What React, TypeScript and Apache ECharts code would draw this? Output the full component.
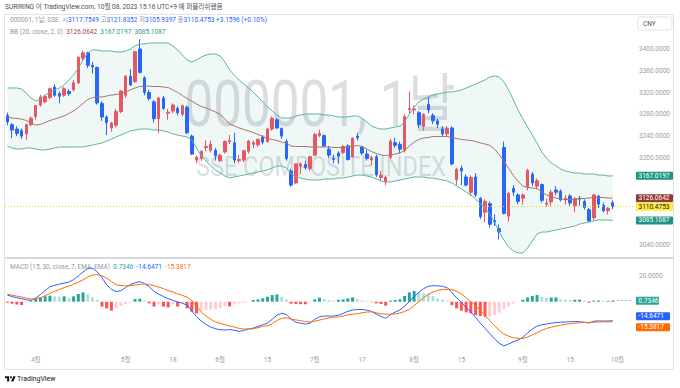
import React, { useEffect, useRef } from "react";
import * as echarts from "echarts";

const FONT = 'Roboto, "Noto Sans CJK KR", sans-serif';

// ---------- DATA ----------
const dates = [
  "2023-03-24","2023-03-27","2023-03-28","2023-03-29","2023-03-30","2023-03-31",
  "2023-04-03","2023-04-04","2023-04-06","2023-04-07","2023-04-10","2023-04-11","2023-04-12","2023-04-13","2023-04-14",
  "2023-04-17","2023-04-18","2023-04-19","2023-04-20","2023-04-21","2023-04-24","2023-04-25","2023-04-26","2023-04-27","2023-04-28",
  "2023-05-04","2023-05-05","2023-05-08","2023-05-09","2023-05-10","2023-05-11","2023-05-12","2023-05-15","2023-05-16","2023-05-17",
  "2023-05-18","2023-05-19","2023-05-22","2023-05-23","2023-05-24","2023-05-25","2023-05-26","2023-05-29","2023-05-30","2023-05-31",
  "2023-06-01","2023-06-02","2023-06-05","2023-06-06","2023-06-07","2023-06-08","2023-06-09","2023-06-12","2023-06-13","2023-06-14",
  "2023-06-15","2023-06-16","2023-06-19","2023-06-20","2023-06-21","2023-06-26","2023-06-27","2023-06-28","2023-06-29","2023-06-30",
  "2023-07-03","2023-07-04","2023-07-05","2023-07-06","2023-07-07","2023-07-10","2023-07-11","2023-07-12","2023-07-13","2023-07-14",
  "2023-07-17","2023-07-18","2023-07-19","2023-07-20","2023-07-21","2023-07-24","2023-07-25","2023-07-26","2023-07-27","2023-07-28","2023-07-31",
  "2023-08-01","2023-08-02","2023-08-03","2023-08-04","2023-08-07","2023-08-08","2023-08-09","2023-08-10","2023-08-11",
  "2023-08-14","2023-08-15","2023-08-16","2023-08-17","2023-08-18","2023-08-21","2023-08-22","2023-08-23","2023-08-24","2023-08-25",
  "2023-08-28","2023-08-29","2023-08-30","2023-08-31",
  "2023-09-01","2023-09-04","2023-09-05","2023-09-06","2023-09-07","2023-09-08","2023-09-11","2023-09-12","2023-09-13","2023-09-14",
  "2023-09-15","2023-09-18","2023-09-19","2023-09-20","2023-09-21","2023-09-22","2023-09-25","2023-09-26","2023-09-27","2023-09-28",
];
const futureDates = ["2023-10-09", "2023-10-10", "2023-10-11", "2023-10-12"];

const open = [
  3278, 3261, 3253, 3250, 3244, 3261, 3276, 3297, 3303, 3311,
  3330, 3318, 3315, 3322, 3325, 3338, 3383, 3393, 3370, 3366,
  3300, 3275, 3255, 3260, 3285, 3315, 3350, 3340, 3400, 3347,
  3320, 3303, 3272, 3310, 3282, 3286, 3291, 3280, 3293, 3240,
  3196, 3199, 3219, 3214, 3214, 3195, 3211, 3230, 3228, 3195,
  3196, 3212, 3225, 3224, 3238, 3230, 3253, 3270, 3254, 3230,
  3176, 3154, 3185, 3188, 3180, 3205, 3241, 3241, 3216, 3199,
  3209, 3210, 3222, 3202, 3240, 3220, 3207, 3196, 3202, 3164,
  3156, 3201, 3228, 3225, 3214, 3289, 3288, 3283, 3258, 3298,
  3278, 3268, 3253, 3244, 3255, 3160, 3181, 3165, 3137, 3165,
  3126, 3100, 3116, 3085, 3070, 3219, 3093, 3144, 3132, 3126,
  3147, 3170, 3148, 3151, 3115, 3119, 3141, 3139, 3123, 3130,
  3112, 3126, 3120, 3105, 3090, 3130, 3113, 3103, 3117.7549,
];
const high = [
  3283, 3264, 3258, 3254, 3263, 3276, 3297, 3316, 3316, 3329,
  3335, 3322, 3330, 3326, 3343, 3386, 3397, 3395, 3376, 3368,
  3304, 3278, 3266, 3290, 3324, 3352, 3363, 3396, 3418, 3350,
  3325, 3306, 3312, 3314, 3290, 3300, 3295, 3298, 3296, 3243,
  3204, 3214, 3232, 3232, 3218, 3208, 3232, 3242, 3246, 3205,
  3215, 3233, 3232, 3236, 3242, 3255, 3276, 3273, 3256, 3234,
  3180, 3190, 3192, 3195, 3204, 3246, 3252, 3243, 3222, 3206,
  3212, 3224, 3225, 3238, 3246, 3222, 3215, 3204, 3206, 3176,
  3168, 3235, 3237, 3230, 3280, 3322, 3296, 3286, 3282, 3312,
  3282, 3272, 3258, 3258, 3258, 3182, 3186, 3170, 3168, 3172,
  3128, 3124, 3120, 3096, 3078, 3230, 3138, 3150, 3135, 3135,
  3180, 3174, 3162, 3153, 3125, 3142, 3148, 3142, 3132, 3134,
  3128, 3130, 3124, 3108, 3133, 3132, 3118, 3110, 3121.8352,
];
const low = [
  3260, 3236, 3240, 3235, 3233, 3258, 3270, 3294, 3300, 3308,
  3312, 3300, 3312, 3314, 3322, 3336, 3378, 3365, 3355, 3298,
  3268, 3242, 3248, 3256, 3282, 3310, 3332, 3338, 3355, 3315,
  3305, 3265, 3245, 3288, 3270, 3282, 3278, 3276, 3244, 3205,
  3190, 3194, 3212, 3210, 3195, 3192, 3208, 3225, 3190, 3190,
  3192, 3208, 3218, 3220, 3225, 3228, 3250, 3253, 3235, 3195,
  3147, 3152, 3170, 3178, 3176, 3203, 3238, 3220, 3200, 3190,
  3189, 3206, 3195, 3200, 3232, 3205, 3195, 3186, 3165, 3158,
  3150, 3198, 3218, 3208, 3210, 3282, 3280, 3255, 3250, 3282,
  3262, 3255, 3240, 3240, 3186, 3150, 3150, 3148, 3130, 3128,
  3088, 3082, 3072, 3075, 3050, 3096, 3083, 3130, 3115, 3114,
  3140, 3148, 3142, 3118, 3110, 3112, 3132, 3120, 3114, 3112,
  3100, 3112, 3105, 3082, 3085, 3108, 3100, 3096, 3105.9397,
];
const close = [
  3266, 3251, 3245, 3240, 3261, 3273, 3296, 3312, 3313, 3327,
  3315, 3313, 3327, 3318, 3338, 3385, 3393, 3370, 3367, 3301,
  3275, 3265, 3264, 3285, 3323, 3350, 3334, 3395, 3357, 3320,
  3309, 3272, 3310, 3291, 3284, 3297, 3283, 3296, 3246, 3207,
  3201, 3212, 3221, 3225, 3204, 3205, 3230, 3232, 3196, 3197,
  3213, 3231, 3228, 3234, 3229, 3253, 3273, 3255, 3240, 3199,
  3150, 3189, 3189, 3182, 3202, 3243, 3245, 3222, 3205, 3197,
  3203, 3221, 3197, 3236, 3237, 3209, 3199, 3200, 3169, 3168,
  3164, 3231, 3223, 3216, 3276, 3291, 3290, 3261, 3280, 3288,
  3268, 3262, 3244, 3254, 3189, 3179, 3176, 3150, 3164, 3132,
  3092, 3120, 3078, 3082, 3064, 3098, 3135, 3137, 3120, 3132,
  3177, 3154, 3158, 3122, 3117, 3137, 3137, 3123, 3126, 3117,
  3125, 3124, 3109, 3084, 3132, 3115, 3103, 3107.3157, 3110.4753,
];

const bbUpper = [
  3328.4, 3328.4, 3328.4, 3326.5, 3319.2, 3310.0, 3304.5, 3308.2, 3315.5, 3321.0,
  3324.7, 3328.4, 3333.9, 3343.1, 3352.2, 3365.1, 3379.8, 3392.7, 3398.2, 3398.2,
  3396.3, 3396.3, 3396.3, 3394.5, 3394.5, 3396.3, 3400.0, 3405.5, 3409.2, 3409.2,
  3411.0, 3411.0, 3411.0, 3411.0, 3411.0, 3405.5, 3398.2, 3389.0, 3379.8, 3376.1,
  3379.8, 3385.3, 3389.0, 3390.8, 3390.8, 3387.1, 3376.1, 3361.4, 3352.2, 3343.1,
  3335.7, 3328.4, 3321.0, 3311.8, 3302.6, 3293.5, 3286.1, 3278.8, 3273.2, 3273.2,
  3273.2, 3276.9, 3278.8, 3280.6, 3280.6, 3280.6, 3280.6, 3278.8, 3278.8, 3276.9,
  3275.1, 3275.1, 3275.1, 3276.9, 3276.9, 3273.2, 3265.9, 3258.5, 3254.9, 3253.0,
  3253.0, 3254.9, 3256.7, 3258.5, 3265.9, 3280.6, 3293.5, 3302.6, 3308.2, 3311.8,
  3315.5, 3317.3, 3319.2, 3321.0, 3321.0, 3322.8, 3324.7, 3328.4, 3332.0, 3335.7,
  3339.4, 3343.1, 3348.6, 3350.4, 3348.6, 3339.4, 3324.7, 3306.3, 3287.9, 3271.4,
  3256.7, 3242.0, 3227.3, 3210.8, 3199.8, 3190.6, 3185.1, 3179.6, 3175.9, 3174.0,
  3172.2, 3172.2, 3170.4, 3170.4, 3170.4, 3168.5, 3168.5, 3166.7, 3167.0197,
];
const bbBasis = [
  3275.1, 3273.3, 3272.4, 3271.4, 3268.7, 3264.1, 3260.4, 3261.4, 3265.0, 3268.7,
  3271.4, 3274.2, 3277.0, 3281.6, 3286.1, 3292.6, 3299.9, 3307.3, 3310.9, 3311.9,
  3311.8, 3313.7, 3315.5, 3316.4, 3318.3, 3321.0, 3324.7, 3328.4, 3331.1, 3331.1,
  3332.0, 3331.1, 3331.1, 3330.2, 3329.3, 3324.7, 3320.1, 3314.6, 3309.1, 3304.5,
  3299.0, 3294.4, 3291.7, 3288.0, 3284.3, 3279.7, 3271.4, 3262.2, 3258.6, 3254.9,
  3252.1, 3249.4, 3246.6, 3242.9, 3239.3, 3235.6, 3233.8, 3232.0, 3229.2, 3227.3,
  3221.8, 3220.9, 3220.9, 3220.9, 3220.0, 3220.0, 3220.0, 3220.0, 3220.0, 3219.1,
  3219.1, 3219.1, 3220.0, 3221.8, 3222.7, 3220.9, 3216.3, 3211.7, 3208.1, 3205.3,
  3204.4, 3205.3, 3207.1, 3209.0, 3213.6, 3221.8, 3229.2, 3233.8, 3236.6, 3237.4,
  3239.3, 3239.3, 3239.3, 3239.3, 3237.4, 3235.6, 3233.8, 3232.9, 3231.9, 3230.1,
  3227.4, 3225.6, 3222.8, 3216.3, 3206.2, 3194.3, 3180.5, 3167.6, 3156.6, 3148.4,
  3145.6, 3144.7, 3143.8, 3137.3, 3131.8, 3128.2, 3126.3, 3124.5, 3123.6, 3123.5,
  3123.6, 3125.4, 3125.4, 3126.3, 3127.2, 3127.2, 3127.2, 3126.3, 3126.0642,
];
const bbLower = [
  3221.8, 3218.1, 3216.3, 3216.3, 3218.1, 3218.1, 3216.3, 3214.5, 3214.5, 3216.3,
  3218.1, 3220.0, 3220.0, 3220.0, 3220.0, 3220.0, 3220.0, 3221.8, 3223.6, 3225.5,
  3227.3, 3231.0, 3234.7, 3238.3, 3242.0, 3245.7, 3249.4, 3251.2, 3253.0, 3253.0,
  3253.0, 3251.2, 3251.2, 3249.4, 3247.5, 3243.9, 3242.0, 3240.2, 3238.3, 3232.8,
  3218.1, 3203.4, 3194.3, 3185.1, 3177.7, 3172.2, 3166.7, 3163.0, 3164.9, 3166.7,
  3168.5, 3170.4, 3172.2, 3174.0, 3175.9, 3177.7, 3181.4, 3185.1, 3185.1, 3181.4,
  3170.4, 3164.9, 3163.0, 3161.2, 3159.4, 3159.4, 3159.4, 3161.2, 3161.2, 3161.2,
  3163.0, 3163.0, 3164.9, 3166.7, 3168.5, 3168.5, 3166.7, 3164.9, 3161.2, 3157.5,
  3155.7, 3155.7, 3157.5, 3159.4, 3161.2, 3163.0, 3164.9, 3164.9, 3164.9, 3163.0,
  3163.0, 3161.2, 3159.4, 3157.5, 3153.8, 3148.3, 3142.8, 3137.3, 3131.8, 3124.5,
  3115.3, 3108.0, 3097.0, 3082.2, 3063.8, 3049.1, 3036.3, 3028.9, 3025.3, 3025.3,
  3034.5, 3047.3, 3060.2, 3063.8, 3063.8, 3065.7, 3067.5, 3069.3, 3071.2, 3073.0,
  3074.9, 3078.5, 3080.4, 3082.2, 3084.0, 3085.9, 3085.9, 3085.9, 3085.1087,
];

const macdLine = [
  5.0, 4.0, 3.0, 2.3, 1.4, 1.0, 2.8, 5.5, 8.5, 11.5,
  12.6, 13.5, 14.3, 15.0, 17.0, 19.8, 22.8, 25.6, 25.8, 23.0,
  18.5, 13.0, 9.5, 7.8, 8.5, 10.8, 13.2, 14.5, 15.4, 14.0,
  11.5, 8.0, 5.8, 4.0, 2.3, 1.0, -0.2, -1.2, -2.5, -7.0,
  -11.5, -15.0, -17.5, -19.5, -20.8, -21.6, -21.8, -21.4, -22.0, -22.8,
  -22.0, -21.0, -20.3, -19.0, -17.8, -16.4, -13.5, -10.5, -8.9, -9.8,
  -13.5, -15.8, -16.5, -17.2, -16.5, -13.5, -11.6, -11.0, -11.0, -11.0,
  -10.4, -9.0, -7.4, -6.4, -6.0, -6.0, -6.5, -7.5, -9.5, -11.3,
  -12.8, -10.0, -8.0, -6.4, -3.5, 0.0, 4.0, 7.2, 10.0, 11.8,
  12.3, 12.2, 11.8, 10.8, 7.0, 3.0, -0.5, -4.5, -8.0, -12.0,
  -16.5, -20.5, -24.5, -28.5, -32.0, -34.0, -32.5, -30.8, -29.5, -27.4,
  -24.0, -21.0, -18.8, -17.8, -17.2, -16.5, -16.0, -15.8, -15.6, -15.4,
  -15.3, -15.4, -15.8, -16.4, -15.0, -14.8, -14.9, -14.8, -14.6471,
];
const signalLine = [
  5.9, 5.0, 4.3, 3.6, 2.8, 2.0, 2.2, 3.0, 4.6, 6.4,
  8.0, 9.5, 10.8, 12.0, 13.5, 15.0, 16.8, 19.0, 20.5, 20.8,
  20.0, 18.0, 15.5, 13.0, 12.5, 12.2, 12.3, 12.8, 13.3, 13.6,
  13.2, 12.3, 11.3, 10.0, 8.5, 7.5, 6.0, 4.8, 3.5, 1.0,
  -3.5, -8.0, -11.0, -13.5, -15.5, -16.6, -17.7, -18.6, -19.5, -20.5,
  -21.0, -21.0, -20.8, -20.0, -19.0, -18.5, -17.0, -14.5, -12.8, -12.3,
  -13.5, -14.0, -14.6, -15.2, -15.6, -15.0, -14.1, -13.3, -12.5, -12.0,
  -11.7, -11.0, -10.0, -9.6, -9.3, -8.5, -8.0, -7.8, -8.5, -9.3,
  -9.5, -9.6, -9.4, -8.8, -7.5, -6.0, -3.0, 0.0, 3.0, 5.8,
  7.5, 8.7, 9.3, 9.5, 9.3, 8.0, 6.0, 3.0, 0.0, -3.0,
  -6.5, -10.5, -14.5, -18.5, -22.0, -25.0, -26.5, -27.8, -28.2, -28.2,
  -27.2, -25.5, -23.8, -22.0, -20.6, -19.6, -18.8, -18.0, -17.4, -16.9,
  -16.5, -16.2, -16.0, -15.9, -15.8, -15.6, -15.5, -15.45, -15.3817,
];
const histogram = [
  -0.8, -1.5, -2.1, -2.6, -0.8, 0.6, 2.1, 3.4, 4.1, 4.6,
  4.1, 3.9, 4.1, 2.8, 4.1, 5.9, 7.2, 5.9, 3.4, 1.3,
  -3.8, -5.1, -6.9, -5.1, -3.3, -1.8, -0.8, 2.1, 2.3, 0.8,
  -1.3, -3.8, -2.1, -3.8, -4.4, -1.8, -3.8, -1.3, -5.1, -7.7,
  -9.0, -6.9, -6.4, -6.2, -5.9, -5.1, -3.3, -3.6, -2.1, -1.3,
  -0.8, -0.3, 1.3, 1.8, 2.6, 3.8, 5.1, 5.6, 3.8, 1.8,
  -1.5, -1.8, -1.9, -2.0, -0.5, 1.8, 3.1, 2.1, 1.3, 0.8,
  1.5, 1.8, 2.6, 3.3, 1.8, 1.0, 0.5, -0.3, -1.3, -1.8,
  -3.1, 0.8, 1.3, 1.8, 4.4, 7.2, 8.2, 7.2, 6.4, 5.9,
  4.4, 2.6, 1.8, 0.8, -2.6, -5.1, -6.9, -8.2, -9.0, -10.3,
  -11.0, -11.6, -11.4, -10.3, -8.5, -5.9, -3.8, -1.3, -0.3, 1.5,
  3.3, 4.4, 5.1, 3.8, 3.1, 3.2, 3.3, 1.8, 1.7, 1.3,
  1.5, 1.6, 0.8, -0.8, 0.8, 0.9, 0.6, 0.65, 0.7346,
];

const tickDates = [
  "2023-04-03", "2023-05-04", "2023-05-18", "2023-06-01", "2023-06-15", "2023-07-03",
  "2023-07-17", "2023-08-01", "2023-08-15", "2023-09-01", "2023-09-15", "2023-10-09",
];
const tickLabels = ["4월", "5월", "18", "6월", "15", "7월", "17", "8월", "15", "9월", "15", "10월"];
// price-axis labels left visible (the others sit under the value tags)
const priceLabels = [3040, 3200, 3240, 3280, 3320, 3360, 3400];
const macdLabels = [20];

// ---------- STYLE ----------
const UP = "#f7525f";
const DOWN = "#2962ff";
const BAND = "#5fb3a3";
const BASIS = "#ad7068";
const AXIS_TEXT = "#9a9da6";

echarts.graphic.registerShape(
  "tvlogo",
  echarts.graphic.extendPath(
    "M14 22H7V11H0V4h14v18zM28 22h-8l7.5-18h8zM16.5 7.5a3.5 3.5 0 1 0 7 0a3.5 3.5 0 1 0 -7 0z",
    {}
  )
);

function histColor(v: number, i: number) {
  const prev = i > 0 ? histogram[i - 1] : 0;
  if (v >= 0) return v >= prev ? "#26a69a" : "#b2dfdb";
  return v < prev ? "#ff5252" : "#ffcdd2";
}

export default function App() {
  const ref = useRef<HTMLDivElement>(null);

  useEffect(() => {
    const el = ref.current;
    if (!el) return;
    const chart = echarts.init(el, null, { renderer: "svg" });
    const last = dates.length - 1;
    const categories = [...dates, ...futureDates];
    const candleData = dates.map((_, i) => [open[i], close[i], low[i], high[i]]);
    const bbFill = bbUpper.map((u, i) => +(u - bbLower[i]).toFixed(4));
    const histData = histogram.map((v, i) => ({ value: v, itemStyle: { color: histColor(v, i) } }));
    const chg = close[last] - close[last - 1];
    const chgPct = (chg / close[last - 1]) * 100;
    const f4 = (v: number) => v.toFixed(4);

    const staticGraphics: any[] = [
      {
        id: "frame", type: "rect", z: 0, silent: true,
        shape: { x: 4.5, y: 14.5, width: 669, height: 355 },
        style: { fill: "none", stroke: "#e0e3eb", lineWidth: 1 },
      },
      {
        id: "sep", type: "line", z: 50, silent: true,
        shape: { x1: 5, y1: 258, x2: 673, y2: 258 },
        style: { stroke: "#c9ccd3", lineWidth: 1.5 },
      },
      {
        id: "wm1", type: "text", z: 0, silent: true, x: 320, y: 104, scaleX: 0.8,
        style: {
          text: "000001, 1날", fontSize: 64, fontFamily: FONT,
          fill: "rgba(120,123,134,0.26)", align: "center", verticalAlign: "middle",
        },
      },
      {
        id: "wm2", type: "text", z: 0, silent: true, x: 321, y: 166, scaleX: 0.84,
        style: {
          text: "SSE COMPOSITE INDEX", fontSize: 28, fontFamily: FONT,
          fill: "rgba(120,123,134,0.26)", align: "center", verticalAlign: "middle",
        },
      },
      {
        id: "h1", type: "text", x: 5, y: 7,
        style: {
          text: "SURIRING 이 TradingView.com, 10월 08, 2023 15:16 UTC+9 에 퍼블리쉬됐음",
          fontSize: 6.6, fontFamily: FONT, fill: "#4a4d57", verticalAlign: "middle",
        },
      },
      {
        id: "h2", type: "text", x: 10, y: 20,
        style: {
          text:
            "{g|000001, 1날, SSE  시}{b|" + f4(open[last]) + "} {g|고}{b|" + f4(high[last]) +
            "} {g|저}{b|" + f4(low[last]) + "} {g|종}{b|" + f4(close[last]) + "} {b|" +
            (chg >= 0 ? "+" : "") + f4(chg) + " (" + (chgPct >= 0 ? "+" : "") + chgPct.toFixed(2) + "%)}",
          fontSize: 6.5, fontFamily: FONT, verticalAlign: "middle",
          rich: {
            g: { fill: "#9598a1", fontSize: 6.5, fontFamily: FONT },
            b: { fill: "#2962ff", fontSize: 6.5, fontFamily: FONT },
          },
        },
      },
      {
        id: "h3", type: "text", x: 10, y: 32,
        style: {
          text:
            "{g|BB (20, close, 2, 0)}  {r|" + f4(bbBasis[last]) + "}  {t|" + f4(bbUpper[last]) +
            "}  {t|" + f4(bbLower[last]) + "}",
          fontSize: 6.5, fontFamily: FONT, verticalAlign: "middle",
          rich: {
            g: { fill: "#9598a1", fontSize: 6.5, fontFamily: FONT },
            r: { fill: "#a1463e", fontSize: 6.5, fontFamily: FONT },
            t: { fill: "#1e9c86", fontSize: 6.5, fontFamily: FONT },
          },
        },
      },
      {
        id: "h4", type: "text", x: 10, y: 267,
        style: {
          text:
            "{g|MACD (15, 30, close, 7, EMA, EMA)}  {t|" + f4(histogram[last]) + "}  {b|" +
            f4(macdLine[last]) + "}  {o|" + f4(signalLine[last]) + "}",
          fontSize: 6.5, fontFamily: FONT, verticalAlign: "middle",
          rich: {
            g: { fill: "#9598a1", fontSize: 6.5, fontFamily: FONT },
            t: { fill: "#26a69a", fontSize: 6.5, fontFamily: FONT },
            b: { fill: "#2962ff", fontSize: 6.5, fontFamily: FONT },
            o: { fill: "#ff6d00", fontSize: 6.5, fontFamily: FONT },
          },
        },
      },
      {
        id: "cnyBox", type: "rect", z: 60,
        shape: { x: 638, y: 17, width: 34, height: 13, r: 2 },
        style: { fill: "#ffffff", stroke: "#e0e3eb", lineWidth: 1 },
      },
      {
        id: "cnyText", type: "text", z: 61, x: 643, y: 23.5,
        style: { text: "CNY", fontSize: 6.5, fontFamily: FONT, fill: "#50535e", verticalAlign: "middle" },
      },
      {
        id: "logo", type: "tvlogo", x: 5, y: 375, scaleX: 0.3, scaleY: 0.3,
        style: { fill: "#131722" },
      },
      {
        id: "logoText", type: "text", x: 17, y: 378.5,
        style: { text: "TradingView", fontSize: 7, fontFamily: FONT, fill: "#131722", verticalAlign: "middle" },
      },
    ];

    const option: any = {
      animation: false,
      backgroundColor: "#ffffff",
      textStyle: { fontFamily: FONT },
      grid: [
        { left: 5, width: 629, top: 5.444, height: 261.333 },
        { left: 5, width: 629, top: 249.7, height: 130 },
      ],
      xAxis: [
        { type: "category", gridIndex: 0, data: categories, boundaryGap: true, show: false },
        {
          type: "category", gridIndex: 1, data: categories, boundaryGap: true,
          position: "bottom", offset: -26,
          axisLine: { show: false }, axisTick: { show: false }, splitLine: { show: false },
          axisLabel: {
            interval: (_i: number, v: string) => tickDates.indexOf(v) >= 0,
            formatter: (v: string) => {
              const k = tickDates.indexOf(v);
              return k >= 0 ? tickLabels[k] : "";
            },
            color: AXIS_TEXT, fontSize: 6.5, fontFamily: FONT, margin: 3,
          },
        },
      ],
      yAxis: [
        {
          type: "value", gridIndex: 0, position: "right", min: 3000, max: 3480, interval: 40,
          splitLine: { show: false }, axisLine: { show: false }, axisTick: { show: false },
          axisLabel: {
            formatter: (v: number) => (priceLabels.indexOf(v) >= 0 ? v.toFixed(4) : ""),
            color: AXIS_TEXT, fontSize: 6.5, fontFamily: FONT, margin: 5,
          },
        },
        {
          type: "value", gridIndex: 1, position: "right", min: -60, max: 40, interval: 20,
          splitLine: { show: false }, axisLine: { show: false }, axisTick: { show: false },
          axisLabel: {
            formatter: (v: number) => (macdLabels.indexOf(v) >= 0 ? v.toFixed(4) : ""),
            color: AXIS_TEXT, fontSize: 6.5, fontFamily: FONT, margin: 5,
          },
        },
      ],
      series: [
        {
          name: "bbBase", type: "line", xAxisIndex: 0, yAxisIndex: 0, data: bbLower,
          stack: "bb", symbol: "none", silent: true, lineStyle: { opacity: 0 },
        },
        {
          name: "bbFill", type: "line", xAxisIndex: 0, yAxisIndex: 0, data: bbFill,
          stack: "bb", symbol: "none", silent: true, lineStyle: { opacity: 0 },
          areaStyle: { color: "rgba(38,166,154,0.075)", opacity: 1 },
        },
        {
          name: "Upper", type: "line", xAxisIndex: 0, yAxisIndex: 0, data: bbUpper,
          symbol: "none", silent: true, lineStyle: { color: BAND, width: 1 },
        },
        {
          name: "Lower", type: "line", xAxisIndex: 0, yAxisIndex: 0, data: bbLower,
          symbol: "none", silent: true, lineStyle: { color: BAND, width: 1 },
        },
        {
          name: "Basis", type: "line", xAxisIndex: 0, yAxisIndex: 0, data: bbBasis,
          symbol: "none", silent: true, lineStyle: { color: BASIS, width: 1 },
        },
        {
          name: "000001", type: "candlestick", xAxisIndex: 0, yAxisIndex: 0, data: candleData,
          barWidth: 3,
          itemStyle: { color: UP, color0: DOWN, borderColor: UP, borderColor0: DOWN, borderWidth: 1 },
          markLine: {
            silent: true, symbol: ["none", "none"], label: { show: false },
            lineStyle: { color: "#f2d22e", type: [1, 2], width: 1 },
            data: [{ yAxis: close[last] }],
          },
        },
        {
          name: "Histogram", type: "bar", xAxisIndex: 1, yAxisIndex: 1, data: histData,
          barWidth: 3, silent: true,
          markLine: {
            silent: true, symbol: ["none", "none"], label: { show: false },
            lineStyle: { color: "#b2b5be", type: [2, 2], width: 1 },
            data: [[
              { coord: [categories[last], histogram[last]] },
              { coord: [categories[categories.length - 1], histogram[last]] },
            ]],
          },
        },
        {
          name: "MACD", type: "line", xAxisIndex: 1, yAxisIndex: 1, data: macdLine,
          symbol: "none", silent: true, lineStyle: { color: "#2962ff", width: 1 },
        },
        {
          name: "Signal", type: "line", xAxisIndex: 1, yAxisIndex: 1, data: signalLine,
          symbol: "none", silent: true, lineStyle: { color: "#ff6d00", width: 1 },
        },
      ],
      graphic: { elements: staticGraphics },
    };

    chart.setOption(option);

    const tags: any[] = [];
    const addTag = (id: string, value: number, axis: number, bg: string, fg: string, width: number, dy = 0) => {
      const y = (chart.convertToPixel({ yAxisIndex: axis } as any, value) as number) + dy;
      tags.push({
        id: id + "_r", type: "rect", z: 100, silent: true,
        shape: { x: 636, y: y - 4, width, height: 8, r: 1 },
        style: { fill: bg },
      });
      tags.push({
        id: id + "_t", type: "text", z: 101, silent: true, x: 638.5, y,
        style: { text: f4(value), fontSize: 6.5, fontFamily: FONT, fill: fg, verticalAlign: "middle" },
      });
    };
    addTag("tUp", bbUpper[last], 0, "#1f9582", "#ffffff", 37);
    addTag("tBasis", bbBasis[last], 0, "#8e3a35", "#ffffff", 37);
    addTag("tClose", close[last], 0, "#ffeb3b", "#131722", 37);
    addTag("tLow", bbLower[last], 0, "#1f9582", "#ffffff", 37);
    addTag("tHist", histogram[last], 1, "#26a69a", "#ffffff", 23);
    addTag("tMacd", macdLine[last], 1, "#2962ff", "#ffffff", 34, -4.5);
    addTag("tSig", signalLine[last], 1, "#ff6d00", "#ffffff", 34, 5.5);

    chart.setOption({ graphic: { elements: [...staticGraphics, ...tags] } });

    return () => chart.dispose();
  }, []);

  return (
    <div
      ref={ref}
      style={{ position: "absolute", left: 0, top: 0, width: 680, height: 388, background: "#ffffff" }}
    />
  );
}
